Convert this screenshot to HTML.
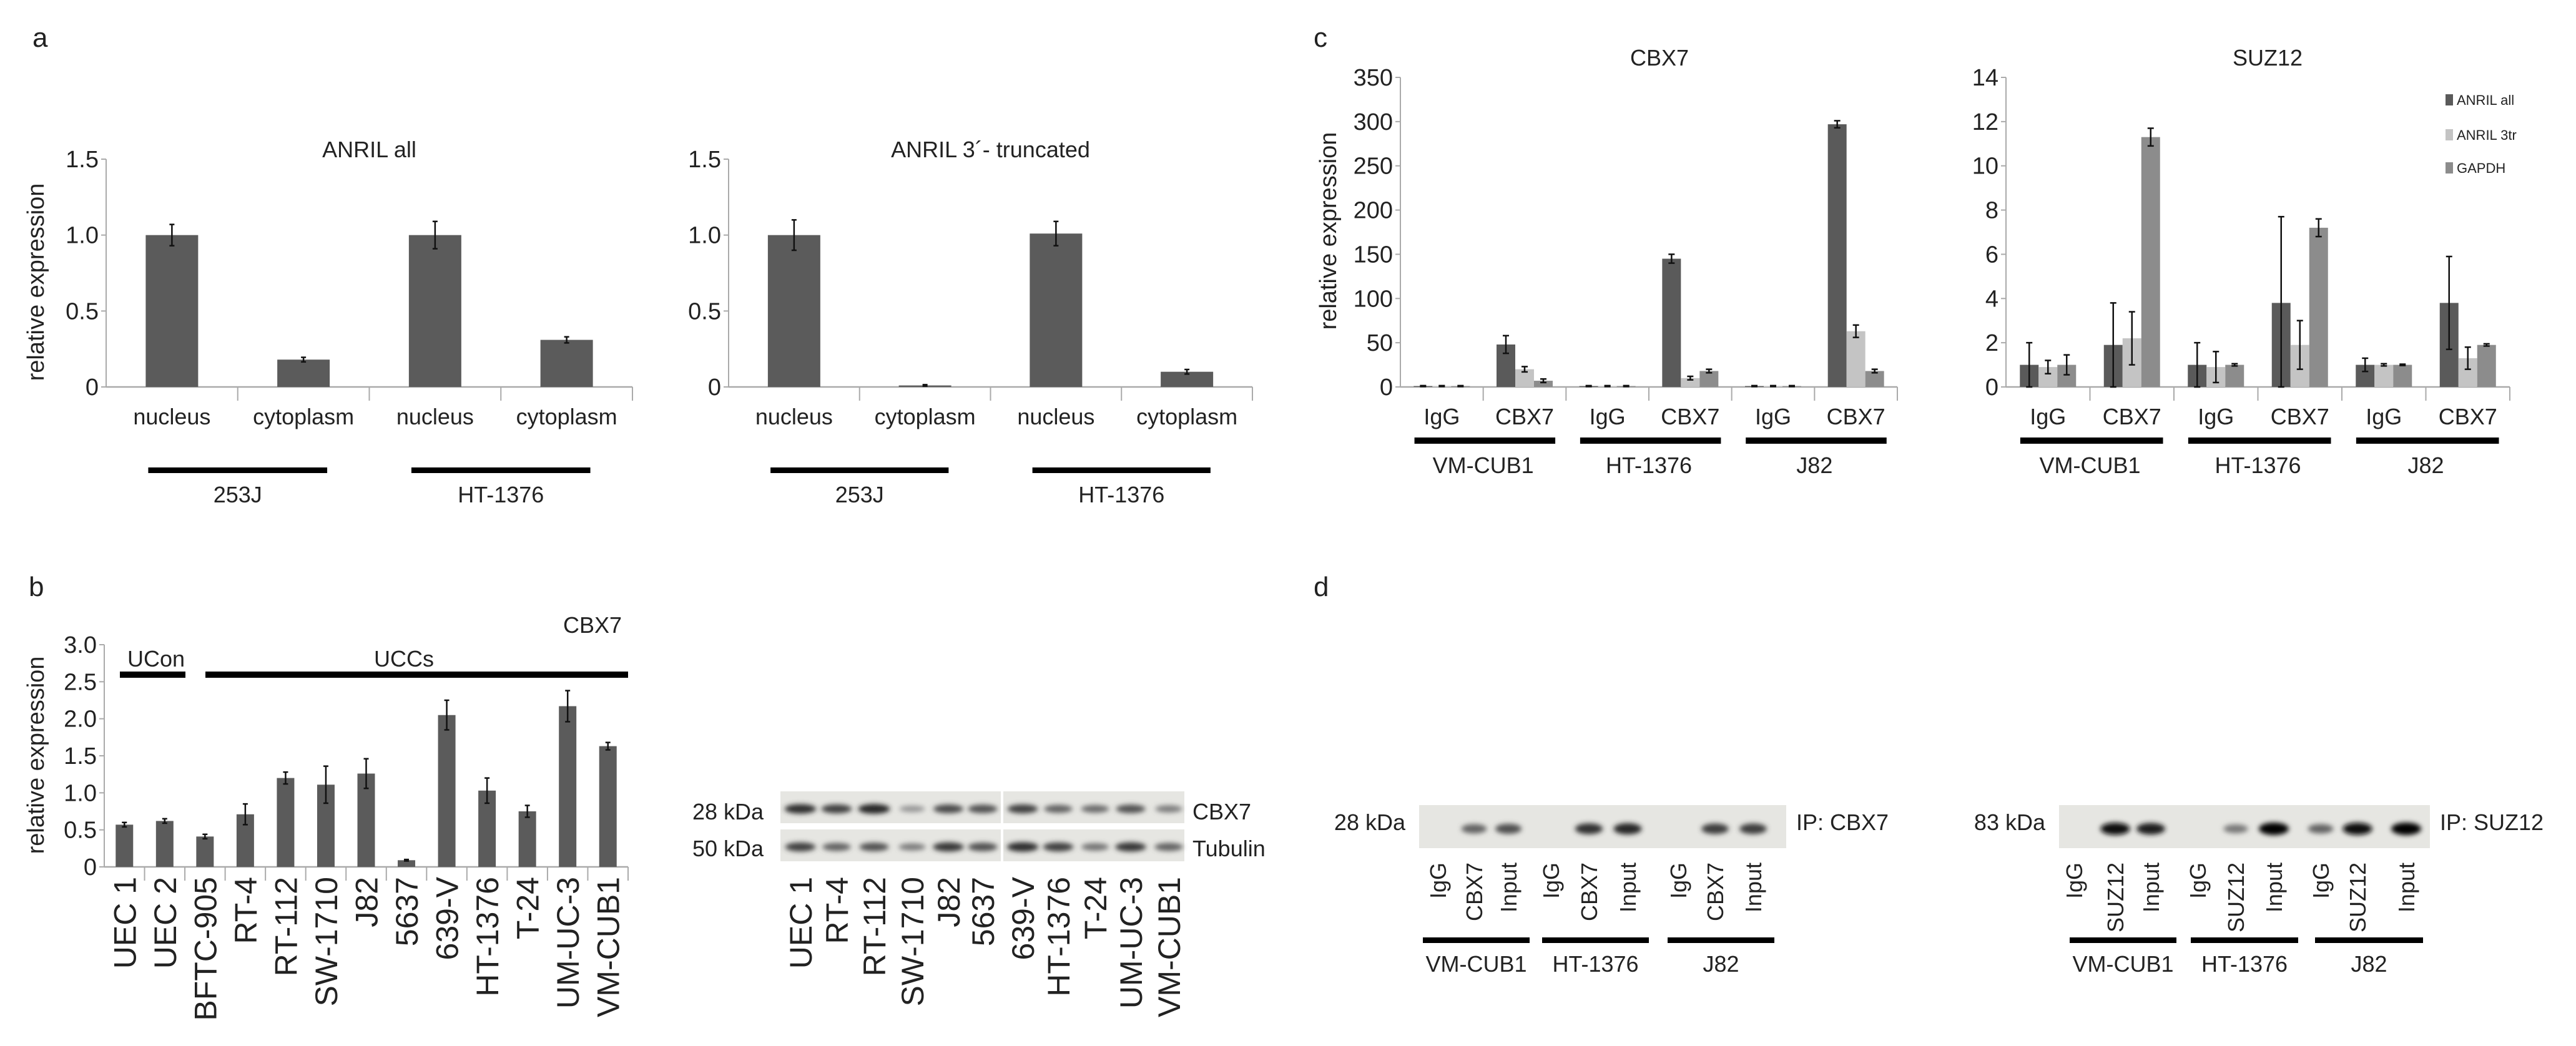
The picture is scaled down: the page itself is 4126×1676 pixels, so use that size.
<!DOCTYPE html>
<html><head><meta charset="utf-8"><title>CBX7 / ANRIL figure</title>
<style>
html,body{margin:0;padding:0;background:#fff;}
svg{display:block;font-family:"Liberation Sans",Arial,sans-serif;}
</style></head>
<body>
<svg id="fig" width="4126" height="1676" viewBox="0 0 4126 1676" xmlns="http://www.w3.org/2000/svg">
<defs><filter id="blur" x="-50%" y="-100%" width="200%" height="300%"><feGaussianBlur stdDeviation="4"/></filter></defs>
<text x="52" y="75" font-size="44" fill="#222">a</text>
<text x="46" y="955" font-size="44" fill="#222">b</text>
<text x="2104" y="75" font-size="44" fill="#222">c</text>
<text x="2104" y="955" font-size="44" fill="#222">d</text>
</svg>
<script>
// ---------- DATA ----------
const aCategories = ["nucleus","cytoplasm","nucleus","cytoplasm"];
const aGroups = ["253J","HT-1376"];
const aTicks = [0,0.5,1.0,1.5];
const aTickLabels = ["0","0.5","1.0","1.5"];
const a1Values = [1.0,0.18,1.0,0.31];
const a1Errors = [0.07,0.015,0.09,0.02];
const a2Values = [1.0,0.01,1.01,0.10];
const a2Errors = [0.10,0.005,0.08,0.015];

const bCategories = ["UEC 1","UEC 2","BFTC-905","RT-4","RT-112","SW-1710","J82","5637","639-V","HT-1376","T-24","UM-UC-3","VM-CUB1"];
const bValues = [0.57,0.62,0.41,0.71,1.20,1.11,1.26,0.09,2.05,1.03,0.75,2.17,1.63];
const bErrors = [0.03,0.03,0.03,0.14,0.08,0.25,0.20,0.01,0.20,0.17,0.08,0.21,0.05];
const bTicks = [0,0.5,1.0,1.5,2.0,2.5,3.0];
const bTickLabels = ["0","0.5","1.0","1.5","2.0","2.5","3.0"];

const cCategories = ["IgG","CBX7","IgG","CBX7","IgG","CBX7"];
const cGroups = ["VM-CUB1","HT-1376","J82"];
const seriesNames = ["ANRIL all","ANRIL 3tr","GAPDH"];
const c1AnrilAll = [1,48,1,145,1,297];
const c1AnrilAllErr = [0.5,10,0.5,5,0.5,4];
const c1Anril3tr = [1,20,1,10,1,63];
const c1Anril3trErr = [0.5,3,0.5,2,0.5,7];
const c1Gapdh = [1,7,1,18,1,18];
const c1GapdhErr = [0.5,2,0.5,2,0.5,2];
const c1Ticks = [0,50,100,150,200,250,300,350];
const c2AnrilAll = [1,1.9,1,3.8,1,3.8];
const c2AnrilAllErr = [1,1.9,1,3.9,0.3,2.1];
const c2Anril3tr = [0.9,2.2,0.9,1.9,1,1.3];
const c2Anril3trErr = [0.3,1.2,0.7,1.1,0.05,0.5];
const c2Gapdh = [1,11.3,1,7.2,1,1.9];
const c2GapdhErr = [0.45,0.4,0.05,0.4,0.03,0.05];
const c2Ticks = [0,2,4,6,8,10,12,14];

const blotBLanes = ["UEC 1","RT-4","RT-112","SW-1710","J82","5637","639-V","HT-1376","T-24","UM-UC-3","VM-CUB1"];
const blotBCbx7 = [0.9,0.8,0.95,0.3,0.75,0.7,0.8,0.6,0.55,0.7,0.45];
const blotBTubulin = [0.8,0.6,0.7,0.45,0.85,0.7,0.9,0.8,0.5,0.85,0.6];
const blotD1Lanes = ["IgG","CBX7","Input","IgG","CBX7","Input","IgG","CBX7","Input"];
const blotD1 = [0,0.5,0.6,0,0.75,0.8,0,0.7,0.7];
const blotD2Lanes = ["IgG","SUZ12","Input","IgG","SUZ12","Input","IgG","SUZ12","Input"];
const blotD2 = [0,0.95,0.85,0,0.4,1,0.5,0.95,1];
const dGroups = ["VM-CUB1","HT-1376","J82"];

// ---------- HELPERS ----------
const NS="http://www.w3.org/2000/svg";
const svg=document.getElementById('fig');
function mk(tag,attrs,parent){const e=document.createElementNS(NS,tag);for(const k in attrs)e.setAttribute(k,attrs[k]);(parent||svg).appendChild(e);return e;}
function txt(s,x,y,size,anchor,parent){const t=mk('text',{x:x,y:y,'font-size':size,'text-anchor':anchor||'middle',fill:'#222'},parent);t.textContent=s;return t;}
function rtxt(s,x,ytop,size,parent){const t=mk('text',{x:x,y:ytop,'font-size':size,'text-anchor':'end',fill:'#222',transform:`rotate(-90 ${x} ${ytop})`},parent);t.textContent=s;return t;}
function errbar(g,x,y1,y2,cap){mk('line',{x1:x,x2:x,y1:y1,y2:y2,stroke:'#111','stroke-width':2.5},g);mk('line',{x1:x-cap,x2:x+cap,y1:y1,y2:y1,stroke:'#111','stroke-width':2.5},g);mk('line',{x1:x-cap,x2:x+cap,y1:y2,y2:y2,stroke:'#111','stroke-width':2.5},g);}

function axes(g,x0,x1,y0,y1,ticks,labels,max,ncat,fs){
  const ys=v=>y0-(v/max)*(y0-y1);
  mk('line',{x1:x0,x2:x0,y1:y0,y2:y1,stroke:'#aaa','stroke-width':2},g);
  mk('line',{x1:x0,x2:x1,y1:y0,y2:y0,stroke:'#aaa','stroke-width':2.5},g);
  ticks.forEach((t,i)=>{const y=ys(t);mk('line',{x1:x0-8,x2:x0,y1:y,y2:y,stroke:'#aaa','stroke-width':2},g);
    const lab=txt(labels[i],x0-12,y+13,fs,'end',g);
    
    });
  const cw=(x1-x0)/ncat;
  for(let i=1;i<=ncat;i++){mk('line',{x1:x0+i*cw,x2:x0+i*cw,y1:y0,y2:y0+22,stroke:'#aaa','stroke-width':2},g);}
  return ys;
}

// ---------- PANEL A ----------
function panelA(name,title,x0,x1,vals,errs){
  const g=mk('g',{});
  
  
  const y0=620,y1=255;
  const ys=axes(g,x0,x1,y0,y1,aTicks,aTickLabels,1.5,4,38);
  const cw=(x1-x0)/4;
  const tt=txt(title,(x0+x1)/2,252,36,'middle',g);
  
  
  vals.forEach((v,i)=>{const cx=x0+cw*(i+0.5);
    const r=mk('rect',{x:cx-42,y:ys(v),width:84,height:y0-ys(v),fill:'#5b5b5b'},g);
    
    
    errbar(g,cx,ys(v+errs[i]),ys(v-errs[i]),4);
    const l=txt(aCategories[i],cx,680,36,'middle',g);
    
    });
  aGroups.forEach((gname,j)=>{const gx0=x0+cw*2*j+cw*0.32,gx1=x0+cw*2*(j+1)-cw*0.32+ -0;
    mk('rect',{x:x0+cw*2*j+cw*0.32,y:749,width:cw*1.36,height:9,fill:'#000'},g);
    const l=txt(gname,x0+cw*2*j+cw,805,36,'middle',g);
    
    });
}
panelA('chart-anril-all','ANRIL all',170,1013,a1Values,a1Errors);
panelA('chart-anril-3-truncated','ANRIL 3´- truncated',1167,2006,a2Values,a2Errors);
{const t=mk('text',{x:70,y:452,'font-size':38,'text-anchor':'middle',fill:'#222',transform:'rotate(-90 70 452)'});t.textContent='relative expression';

}

// ---------- PANEL B ----------
{const g=mk('g',{});
 
 
 const x0=167,x1=1006,y0=1389,y1=1033;
 const ys=axes(g,x0,x1,y0,y1,bTicks,bTickLabels,3.0,13,38);
 const cw=(x1-x0)/13;
 bValues.forEach((v,i)=>{const cx=x0+cw*(i+0.5);
   const r=mk('rect',{x:cx-14,y:ys(v),width:28,height:y0-ys(v),fill:'#5b5b5b'},g);
   
   
   errbar(g,cx,ys(v+bErrors[i]),ys(v-bErrors[i]),4);
   const l=rtxt(bCategories[i],cx+18,1405,50,g);
   
   });
 const t=txt('CBX7',949,1014,36,'middle',g);
 
 
 mk('rect',{x:192,y:1076,width:105,height:10,fill:'#000'},g);
 mk('rect',{x:329,y:1076,width:677,height:10,fill:'#000'},g);
 const u1=txt('UCon',250,1068,36,'middle',g);
 
 
 const u2=txt('UCCs',647,1068,36,'middle',g);
 
 
 const yt=mk('text',{x:70,y:1210,'font-size':38,'text-anchor':'middle',fill:'#222',transform:'rotate(-90 70 1210)'},g);yt.textContent='relative expression';
 
 
}

// ---------- BLOTS ----------
function blot(g,x,y,w,h,laneXs,ints,bw,bh,dark){
  mk('rect',{x:x,y:y,width:w,height:h,fill:'#e6e6e2'},g);
  laneXs.forEach((lx,i)=>{if(ints[i]<=0)return;
    const c=Math.round(200-ints[i]*(dark?200:170));
    const e=mk('ellipse',{cx:lx,cy:y+h*0.55,rx:bw*(0.7+0.3*ints[i]),ry:bh*(0.5+0.5*ints[i]),fill:`rgb(${c},${c},${c})`,filter:'url(#blur)'},g);
    
    });
}
{const g=mk('g',{});
 
 
 const lx=[1282,1340,1400,1461,1519,1574,1638,1695,1754,1811,1872];
 blot(g,1250,1268,647,51,lx,blotBCbx7,26,8,false);
 blot(g,1250,1329,647,51,lx,blotBTubulin,26,8,false);
 mk('rect',{x:1603,y:1262,width:4,height:124,fill:'#fff'},g);
 txt('28 kDa',1166,1313,36,'middle',g);txt('50 kDa',1166,1372,36,'middle',g);
 txt('CBX7',1910,1313,36,'start',g);txt('Tubulin',1910,1372,36,'start',g);
 blotBLanes.forEach((n,i)=>{const l=rtxt(n,lx[i]+18,1405,50,g);
   
   });
}
function blotD(name,x,w,lx,ints,lanes,groupsX,mw,ip){
  const g=mk('g',{});
  
  
  blot(g,x,1290,w,69,lx,ints,24,10,true);
  txt(mw,x-22,1330,36,'end',g);
  txt(ip,x+w+16,1330,36,'start',g);
  lanes.forEach((n,i)=>{const l=rtxt(n,lx[i]+13,1382,36,g);
    
    });
  groupsX.forEach((gx,j)=>{mk('rect',{x:gx[0],y:1502,width:gx[1]-gx[0],height:9,fill:'#000'},g);
    const l=txt(dGroups[j],(gx[0]+gx[1])/2,1557,36,'middle',g);
    
    });
}
blotD('western-blot-ip-cbx7',2273,588,[2303,2361,2416,2484,2545,2607,2688,2747,2808],blotD1,blotD1Lanes,[[2279,2450],[2470,2641],[2671,2842]],'28 kDa','IP: CBX7');
blotD('western-blot-ip-suz12',3298,594,[3322,3388,3445,3520,3581,3642,3717,3776,3854],blotD2,blotD2Lanes,[[3315,3486],[3509,3681],[3708,3881]],'83 kDa','IP: SUZ12');

// ---------- PANEL C ----------
const seriesColors=['#5a5a5a','#c4c4c4','#8c8c8c'];
function panelC(name,title,x0,x1,max,ticks,series,errs,tx){
  const g=mk('g',{});
  
  
  const y0=620,y1=124;
  const ys=axes(g,x0,x1,y0,y1,ticks,ticks.map(String),max,6,38);
  const cw=(x1-x0)/6,bw=30;
  const t=txt(title,tx,105,36,'middle',g);
  
  
  for(let i=0;i<6;i++){const cx=x0+cw*(i+0.5);
    series.forEach((s,k)=>{const bx=cx+(k-1)*bw;const v=s[i];
      const r=mk('rect',{x:bx-bw/2,y:ys(v),width:bw,height:y0-ys(v),fill:seriesColors[k]},g);
      
      
      errbar(g,bx,ys(v+errs[k][i]),ys(Math.max(0,v-errs[k][i])),5);});
    const l=txt(cCategories[i],cx,680,36,'middle',g);
    
    }
  cGroups.forEach((gn,j)=>{mk('rect',{x:x0+cw*2*j+cw*0.17,y:701,width:cw*1.7,height:10,fill:'#000'},g);
    const l=txt(gn,x0+cw*2*j+cw,758,36,'middle',g);
    
    });
  return g;
}
panelC('chart-cbx7-rip','CBX7',2243,3039,350,c1Ticks,[c1AnrilAll,c1Anril3tr,c1Gapdh],[c1AnrilAllErr,c1Anril3trErr,c1GapdhErr],2658);
const gS=panelC('chart-suz12-rip','SUZ12',3213,4020,14,c2Ticks,[c2AnrilAll,c2Anril3tr,c2Gapdh],[c2AnrilAllErr,c2Anril3trErr,c2GapdhErr],3632);
{const yt=mk('text',{x:2140,y:370,'font-size':38,'text-anchor':'middle',fill:'#222',transform:'rotate(-90 2140 370)'});yt.textContent='relative expression';
 
 
 [160,216,269].forEach((y,k)=>{const lg=mk('g',{},gS);
   
   
   mk('rect',{x:3917,y:y-9,width:12,height:18,fill:seriesColors[k]},lg);
   txt(seriesNames[k],3935,y+8,22,'start',lg);});
}
</script>
</body></html>
